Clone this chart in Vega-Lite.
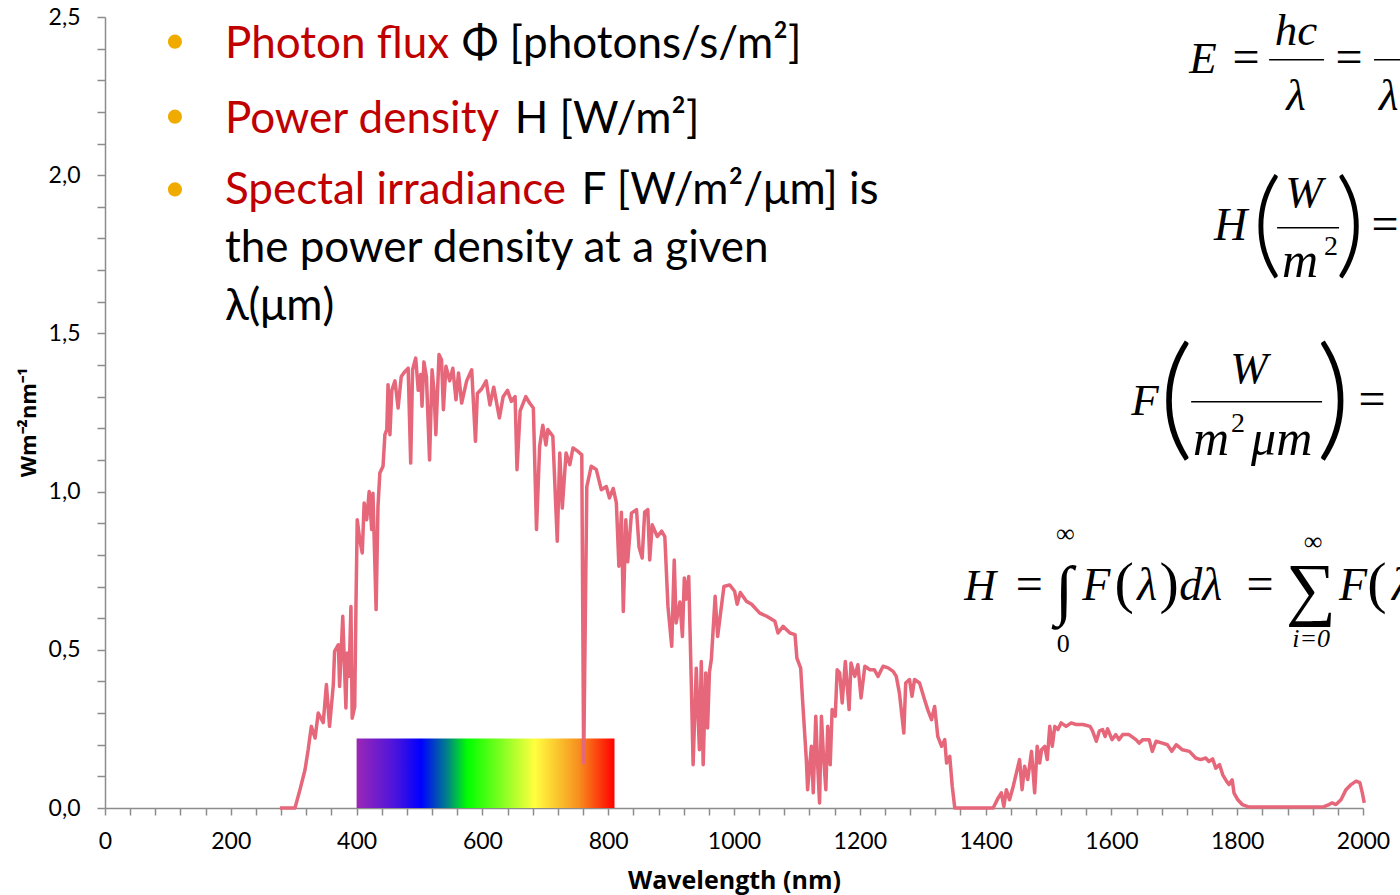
{
  "$schema": "https://vega.github.io/schema/vega-lite/v6.json",
  "width": 1258,
  "height": 791,
  "autosize": {"type": "none"},
  "padding": {"left": 105, "top": 17, "right": 37, "bottom": 87},
  "background": "white",
  "config": {"view": {"stroke": null}},
  "layer": [
    {
      "data": {"values": [{}]},
      "mark": {"type": "rect", "color": {"gradient": "linear", "x1": 0, "x2": 1, "y1": 0, "y2": 0, "stops": [
        {"offset": 0, "color": "#9B27B5"},
        {"offset": 0.15, "color": "#4A14DC"},
        {"offset": 0.25, "color": "#0000FF"},
        {"offset": 0.35, "color": "#00808A"},
        {"offset": 0.43, "color": "#00FF00"},
        {"offset": 0.56, "color": "#7FFF20"},
        {"offset": 0.69, "color": "#FFFF40"},
        {"offset": 0.86, "color": "#F7901E"},
        {"offset": 1, "color": "#FF0000"}]}},
      "encoding": {"x": {"datum": 400}, "x2": {"datum": 810}, "y": {"datum": 0}, "y2": {"datum": 0.22}}
    },
    {
      "data": {"values": [
        {"wavelength": 278, "irradiance": 0},{"wavelength": 302, "irradiance": 0},{"wavelength": 310, "irradiance": 0.058},{"wavelength": 318, "irradiance": 0.121},{"wavelength": 323, "irradiance": 0.184},{"wavelength": 328, "irradiance": 0.258},{"wavelength": 334, "irradiance": 0.221},{"wavelength": 339, "irradiance": 0.30},{"wavelength": 347, "irradiance": 0.27},{"wavelength": 352, "irradiance": 0.39},{"wavelength": 357, "irradiance": 0.258},{"wavelength": 363, "irradiance": 0.39},{"wavelength": 365, "irradiance": 0.495},{"wavelength": 371, "irradiance": 0.516},{"wavelength": 373, "irradiance": 0.384},{"wavelength": 378, "irradiance": 0.606},{"wavelength": 383, "irradiance": 0.316},{"wavelength": 385, "irradiance": 0.49},{"wavelength": 388, "irradiance": 0.416},{"wavelength": 391, "irradiance": 0.637},{"wavelength": 393, "irradiance": 0.284},{"wavelength": 397, "irradiance": 0.32},{"wavelength": 399, "irradiance": 0.64},{"wavelength": 401, "irradiance": 0.911},{"wavelength": 405, "irradiance": 0.848},{"wavelength": 409, "irradiance": 0.806},{"wavelength": 412, "irradiance": 0.964},{"wavelength": 416, "irradiance": 0.911},{"wavelength": 420, "irradiance": 1.0},{"wavelength": 424, "irradiance": 0.88},{"wavelength": 426, "irradiance": 0.995},{"wavelength": 431, "irradiance": 0.627},{"wavelength": 434, "irradiance": 0.953},{"wavelength": 437, "irradiance": 1.059},{"wavelength": 442, "irradiance": 1.08},{"wavelength": 445, "irradiance": 1.18},{"wavelength": 448, "irradiance": 1.196},{"wavelength": 450, "irradiance": 1.338},{"wavelength": 453, "irradiance": 1.18},{"wavelength": 456, "irradiance": 1.32},{"wavelength": 461, "irradiance": 1.35},{"wavelength": 466, "irradiance": 1.264},{"wavelength": 471, "irradiance": 1.364},{"wavelength": 477, "irradiance": 1.38},{"wavelength": 482, "irradiance": 1.39},{"wavelength": 486, "irradiance": 1.09},{"wavelength": 489, "irradiance": 1.385},{"wavelength": 494, "irradiance": 1.422},{"wavelength": 498, "irradiance": 1.32},{"wavelength": 502, "irradiance": 1.37},{"wavelength": 504, "irradiance": 1.27},{"wavelength": 507, "irradiance": 1.41},{"wavelength": 511, "irradiance": 1.364},{"wavelength": 516, "irradiance": 1.10},{"wavelength": 520, "irradiance": 1.385},{"wavelength": 523, "irradiance": 1.32},{"wavelength": 526, "irradiance": 1.18},{"wavelength": 531, "irradiance": 1.433},{"wavelength": 535, "irradiance": 1.417},{"wavelength": 538, "irradiance": 1.259},{"wavelength": 542, "irradiance": 1.396},{"wavelength": 548, "irradiance": 1.35},{"wavelength": 553, "irradiance": 1.39},{"wavelength": 558, "irradiance": 1.29},{"wavelength": 562, "irradiance": 1.375},{"wavelength": 567, "irradiance": 1.28},{"wavelength": 575, "irradiance": 1.35},{"wavelength": 583, "irradiance": 1.385},{"wavelength": 589, "irradiance": 1.159},{"wavelength": 592, "irradiance": 1.31},{"wavelength": 599, "irradiance": 1.325},{"wavelength": 606, "irradiance": 1.35},{"wavelength": 612, "irradiance": 1.274},{"wavelength": 618, "irradiance": 1.33},{"wavelength": 627, "irradiance": 1.233},{"wavelength": 633, "irradiance": 1.30},{"wavelength": 640, "irradiance": 1.32},{"wavelength": 646, "irradiance": 1.285},{"wavelength": 652, "irradiance": 1.30},{"wavelength": 655, "irradiance": 1.069},{"wavelength": 660, "irradiance": 1.255},{"wavelength": 669, "irradiance": 1.30},{"wavelength": 675, "irradiance": 1.28},{"wavelength": 681, "irradiance": 1.264},{"wavelength": 686, "irradiance": 0.88},{"wavelength": 691, "irradiance": 1.143},{"wavelength": 696, "irradiance": 1.21},{"wavelength": 701, "irradiance": 1.147},{"wavelength": 704, "irradiance": 1.196},{"wavelength": 712, "irradiance": 1.175},{"wavelength": 719, "irradiance": 0.843},{"wavelength": 723, "irradiance": 1.122},{"wavelength": 727, "irradiance": 0.948},{"wavelength": 733, "irradiance": 1.122},{"wavelength": 739, "irradiance": 1.085},{"wavelength": 744, "irradiance": 1.138},{"wavelength": 752, "irradiance": 1.127},{"wavelength": 758, "irradiance": 1.116},{"wavelength": 761, "irradiance": 0.142},{"wavelength": 766, "irradiance": 1.016},{"wavelength": 773, "irradiance": 1.08},{"wavelength": 781, "irradiance": 1.07},{"wavelength": 789, "irradiance": 1.006},{"wavelength": 797, "irradiance": 1.016},{"wavelength": 802, "irradiance": 0.98},{"wavelength": 808, "irradiance": 1.01},{"wavelength": 813, "irradiance": 0.964},{"wavelength": 817, "irradiance": 0.764},{"wavelength": 821, "irradiance": 0.935},{"wavelength": 824, "irradiance": 0.621},{"wavelength": 828, "irradiance": 0.911},{"wavelength": 831, "irradiance": 0.778},{"wavelength": 837, "irradiance": 0.932},{"wavelength": 845, "irradiance": 0.943},{"wavelength": 849, "irradiance": 0.825},{"wavelength": 854, "irradiance": 0.79},{"wavelength": 858, "irradiance": 0.935},{"wavelength": 863, "irradiance": 0.943},{"wavelength": 866, "irradiance": 0.784},{"wavelength": 870, "irradiance": 0.895},{"wavelength": 878, "irradiance": 0.858},{"wavelength": 885, "irradiance": 0.875},{"wavelength": 890, "irradiance": 0.858},{"wavelength": 895, "irradiance": 0.637},{"wavelength": 901, "irradiance": 0.511},{"wavelength": 905, "irradiance": 0.784},{"wavelength": 908, "irradiance": 0.585},{"wavelength": 914, "irradiance": 0.651},{"wavelength": 918, "irradiance": 0.542},{"wavelength": 921, "irradiance": 0.727},{"wavelength": 924, "irradiance": 0.66},{"wavelength": 928, "irradiance": 0.732},{"wavelength": 932, "irradiance": 0.405},{"wavelength": 935, "irradiance": 0.137},{"wavelength": 940, "irradiance": 0.442},{"wavelength": 945, "irradiance": 0.184},{"wavelength": 948, "irradiance": 0.463},{"wavelength": 951, "irradiance": 0.137},{"wavelength": 955, "irradiance": 0.427},{"wavelength": 958, "irradiance": 0.253},{"wavelength": 961, "irradiance": 0.43},{"wavelength": 964, "irradiance": 0.47},{"wavelength": 970, "irradiance": 0.669},{"wavelength": 974, "irradiance": 0.542},{"wavelength": 978, "irradiance": 0.606},{"wavelength": 984, "irradiance": 0.70},{"wavelength": 993, "irradiance": 0.705},{"wavelength": 1001, "irradiance": 0.685},{"wavelength": 1005, "irradiance": 0.644},{"wavelength": 1010, "irradiance": 0.681},{"wavelength": 1020, "irradiance": 0.653},{"wavelength": 1028, "irradiance": 0.644},{"wavelength": 1041, "irradiance": 0.616},{"wavelength": 1052, "irradiance": 0.606},{"wavelength": 1065, "irradiance": 0.59},{"wavelength": 1070, "irradiance": 0.553},{"wavelength": 1078, "irradiance": 0.574},{"wavelength": 1089, "irradiance": 0.553},{"wavelength": 1097, "irradiance": 0.548},{"wavelength": 1100, "irradiance": 0.474},{"wavelength": 1106, "irradiance": 0.442},{"wavelength": 1109, "irradiance": 0.342},{"wavelength": 1115, "irradiance": 0.153},{"wavelength": 1117, "irradiance": 0.058},{"wavelength": 1123, "irradiance": 0.195},{"wavelength": 1126, "irradiance": 0.048},{"wavelength": 1130, "irradiance": 0.29},{"wavelength": 1133, "irradiance": 0.137},{"wavelength": 1136, "irradiance": 0.016},{"wavelength": 1139, "irradiance": 0.29},{"wavelength": 1142, "irradiance": 0.174},{"wavelength": 1146, "irradiance": 0.058},{"wavelength": 1149, "irradiance": 0.258},{"wavelength": 1153, "irradiance": 0.137},{"wavelength": 1156, "irradiance": 0.311},{"wavelength": 1161, "irradiance": 0.29},{"wavelength": 1164, "irradiance": 0.437},{"wavelength": 1168, "irradiance": 0.427},{"wavelength": 1172, "irradiance": 0.332},{"wavelength": 1177, "irradiance": 0.463},{"wavelength": 1183, "irradiance": 0.311},{"wavelength": 1186, "irradiance": 0.458},{"wavelength": 1192, "irradiance": 0.416},{"wavelength": 1197, "irradiance": 0.453},{"wavelength": 1202, "irradiance": 0.348},{"wavelength": 1208, "irradiance": 0.448},{"wavelength": 1216, "irradiance": 0.437},{"wavelength": 1223, "irradiance": 0.437},{"wavelength": 1229, "irradiance": 0.416},{"wavelength": 1237, "irradiance": 0.448},{"wavelength": 1245, "irradiance": 0.443},{"wavelength": 1253, "irradiance": 0.432},{"wavelength": 1258, "irradiance": 0.416},{"wavelength": 1263, "irradiance": 0.363},{"wavelength": 1270, "irradiance": 0.237},{"wavelength": 1273, "irradiance": 0.395},{"wavelength": 1279, "irradiance": 0.406},{"wavelength": 1283, "irradiance": 0.353},{"wavelength": 1287, "irradiance": 0.406},{"wavelength": 1295, "irradiance": 0.395},{"wavelength": 1303, "irradiance": 0.342},{"wavelength": 1308, "irradiance": 0.311},{"wavelength": 1314, "irradiance": 0.279},{"wavelength": 1319, "irradiance": 0.321},{"wavelength": 1324, "irradiance": 0.226},{"wavelength": 1330, "irradiance": 0.195},{"wavelength": 1335, "irradiance": 0.216},{"wavelength": 1338, "irradiance": 0.142},{"wavelength": 1343, "irradiance": 0.163},{"wavelength": 1347, "irradiance": 0.068},{"wavelength": 1351, "irradiance": 0},{"wavelength": 1412, "irradiance": 0},{"wavelength": 1420, "irradiance": 0.032},{"wavelength": 1425, "irradiance": 0.048},{"wavelength": 1429, "irradiance": 0.005},{"wavelength": 1433, "irradiance": 0.058},{"wavelength": 1438, "irradiance": 0.026},{"wavelength": 1444, "irradiance": 0.069},{"wavelength": 1449, "irradiance": 0.111},{"wavelength": 1454, "irradiance": 0.153},{"wavelength": 1458, "irradiance": 0.058},{"wavelength": 1462, "irradiance": 0.132},{"wavelength": 1467, "irradiance": 0.09},{"wavelength": 1473, "irradiance": 0.179},{"wavelength": 1478, "irradiance": 0.048},{"wavelength": 1482, "irradiance": 0.195},{"wavelength": 1486, "irradiance": 0.142},{"wavelength": 1489, "irradiance": 0.184},{"wavelength": 1494, "irradiance": 0.195},{"wavelength": 1498, "irradiance": 0.153},{"wavelength": 1502, "irradiance": 0.258},{"wavelength": 1506, "irradiance": 0.195},{"wavelength": 1510, "irradiance": 0.258},{"wavelength": 1515, "irradiance": 0.248},{"wavelength": 1520, "irradiance": 0.269},{"wavelength": 1528, "irradiance": 0.258},{"wavelength": 1536, "irradiance": 0.269},{"wavelength": 1544, "irradiance": 0.264},{"wavelength": 1555, "irradiance": 0.264},{"wavelength": 1566, "irradiance": 0.258},{"wavelength": 1570, "irradiance": 0.244},{"wavelength": 1576, "irradiance": 0.211},{"wavelength": 1581, "irradiance": 0.244},{"wavelength": 1586, "irradiance": 0.248},{"wavelength": 1590, "irradiance": 0.226},{"wavelength": 1594, "irradiance": 0.25},{"wavelength": 1601, "irradiance": 0.216},{"wavelength": 1607, "irradiance": 0.232},{"wavelength": 1612, "irradiance": 0.216},{"wavelength": 1618, "irradiance": 0.232},{"wavelength": 1628, "irradiance": 0.232},{"wavelength": 1639, "irradiance": 0.216},{"wavelength": 1644, "irradiance": 0.205},{"wavelength": 1650, "irradiance": 0.216},{"wavelength": 1660, "irradiance": 0.216},{"wavelength": 1665, "irradiance": 0.179},{"wavelength": 1671, "irradiance": 0.211},{"wavelength": 1681, "irradiance": 0.205},{"wavelength": 1689, "irradiance": 0.2},{"wavelength": 1696, "irradiance": 0.179},{"wavelength": 1703, "irradiance": 0.2},{"wavelength": 1713, "irradiance": 0.184},{"wavelength": 1724, "irradiance": 0.179},{"wavelength": 1734, "irradiance": 0.158},{"wavelength": 1742, "irradiance": 0.153},{"wavelength": 1750, "irradiance": 0.158},{"wavelength": 1755, "irradiance": 0.147},{"wavelength": 1761, "irradiance": 0.155},{"wavelength": 1766, "irradiance": 0.126},{"wavelength": 1772, "irradiance": 0.137},{"wavelength": 1777, "irradiance": 0.105},{"wavelength": 1783, "irradiance": 0.085},{"wavelength": 1787, "irradiance": 0.074},{"wavelength": 1792, "irradiance": 0.089},{"wavelength": 1795, "irradiance": 0.047},{"wavelength": 1801, "irradiance": 0.026},{"wavelength": 1808, "irradiance": 0.011},{"wavelength": 1819, "irradiance": 0.003},{"wavelength": 1936, "irradiance": 0.003},{"wavelength": 1946, "irradiance": 0.011},{"wavelength": 1951, "irradiance": 0.016},{"wavelength": 1957, "irradiance": 0.011},{"wavelength": 1965, "irradiance": 0.026},{"wavelength": 1973, "irradiance": 0.058},{"wavelength": 1981, "irradiance": 0.074},{"wavelength": 1989, "irradiance": 0.085},{"wavelength": 1995, "irradiance": 0.08},{"wavelength": 1999, "irradiance": 0.047},{"wavelength": 2002, "irradiance": 0.016}
      ]},
      "mark": {"type": "line", "color": "#E6667A", "strokeWidth": 3.5, "strokeJoin": "round", "clip": false},
      "encoding": {
        "x": {"field": "wavelength", "type": "quantitative",
          "scale": {"domain": [0, 2000], "nice": false, "zero": false},
          "axis": {
            "values": [0,40,80,120,160,200,240,280,320,360,400,440,480,520,560,600,640,680,720,760,800,840,880,920,960,1000,1040,1080,1120,1160,1200,1240,1280,1320,1360,1400,1440,1480,1520,1560,1600,1640,1680,1720,1760,1800,1840,1880,1920,1960,2000],
            "tickCount": 200,
            "labelExpr": "datum.value % 200 === 0 ? format(datum.value, 'd') : ''",
            "labelOverlap": false, "labelFlush": false,
            "grid": false, "tickSize": 7, "tickWidth": 1.5, "tickColor": "#8C8C8C",
            "domainColor": "#8C8C8C", "domainWidth": 1.5,
            "labelFont": "Lato", "labelFontSize": 23, "labelColor": "#000000", "labelPadding": 15,
            "title": "Wavelength (nm)", "titleFont": "Open Sans", "titleFontWeight": "bold", "titleFontSize": 25,
            "titleColor": "#000000", "titleBaseline": "alphabetic", "titleY": 80, "titleAlign": "center"
          }},
        "y": {"field": "irradiance", "type": "quantitative",
          "scale": {"domain": [0, 2.5], "nice": false},
          "axis": {
            "values": [0,0.1,0.2,0.3,0.4,0.5,0.6,0.7,0.8,0.9,1.0,1.1,1.2,1.3,1.4,1.5,1.6,1.7,1.8,1.9,2.0,2.1,2.2,2.3,2.4,2.5],
            "tickCount": 200,
            "labelExpr": "round(datum.value * 10) % 5 === 0 ? replace(format(datum.value, '.1f'), '.', ',') : ''",
            "labelOverlap": false, "labelFlush": false,
            "grid": false, "tickSize": 8, "tickWidth": 1.5, "tickColor": "#8C8C8C",
            "domainColor": "#8C8C8C", "domainWidth": 1.5,
            "labelFont": "Lato", "labelFontSize": 23, "labelColor": "#000000", "labelPadding": 17,
            "title": "Wm⁻²nm⁻¹", "titleFont": "Open Sans", "titleFontWeight": "bold", "titleFontSize": 22,
            "titleColor": "#000000", "titleAngle": -90, "titleBaseline": "alphabetic", "titleAlign": "center",
            "titleX": -70, "titleY": 405
          }}
      }
    },
    {"data": {"values": [{}]}, "mark": {"type": "circle", "color": "#F0AB00", "size": 200, "opacity": 1}, "encoding": {"x": {"datum": 111.2}, "y": {"datum": 2.422}}},
    {"data": {"values": [{}]}, "mark": {"type": "circle", "color": "#F0AB00", "size": 200, "opacity": 1}, "encoding": {"x": {"datum": 111.2}, "y": {"datum": 2.185}}},
    {"data": {"values": [{}]}, "mark": {"type": "circle", "color": "#F0AB00", "size": 200, "opacity": 1}, "encoding": {"x": {"datum": 111.2}, "y": {"datum": 1.955}}},
    {"data": {"values": [{}]}, "mark": {"type": "text", "text": "Photon flux", "font": "Lato", "fontSize": 44, "color": "#C00000", "align": "left", "baseline": "alphabetic"}, "encoding": {"x": {"datum": 190.6}, "y": {"datum": 2.371}}},
    {"data": {"values": [{}]}, "mark": {"type": "text", "text": "Φ [photons/s/m²]", "font": "Lato", "fontSize": 44, "color": "#000000", "align": "left", "baseline": "alphabetic"}, "encoding": {"x": {"datum": 567.1}, "y": {"datum": 2.371}}},
    {"data": {"values": [{}]}, "mark": {"type": "text", "text": "Power density", "font": "Lato", "fontSize": 44, "color": "#C00000", "align": "left", "baseline": "alphabetic"}, "encoding": {"x": {"datum": 190.6}, "y": {"datum": 2.134}}},
    {"data": {"values": [{}]}, "mark": {"type": "text", "text": "H [W/m²]", "font": "Lato", "fontSize": 44, "color": "#000000", "align": "left", "baseline": "alphabetic"}, "encoding": {"x": {"datum": 651.3}, "y": {"datum": 2.134}}},
    {"data": {"values": [{}]}, "mark": {"type": "text", "text": "Spectal irradiance", "font": "Lato", "fontSize": 44, "color": "#C00000", "align": "left", "baseline": "alphabetic"}, "encoding": {"x": {"datum": 190.6}, "y": {"datum": 1.908}}},
    {"data": {"values": [{}]}, "mark": {"type": "text", "text": "F [W/m²/μm] is", "font": "Lato", "fontSize": 44, "color": "#000000", "align": "left", "baseline": "alphabetic"}, "encoding": {"x": {"datum": 757.7}, "y": {"datum": 1.908}}},
    {"data": {"values": [{}]}, "mark": {"type": "text", "text": "the power density at a given", "font": "Lato", "fontSize": 44, "color": "#000000", "align": "left", "baseline": "alphabetic"}, "encoding": {"x": {"datum": 190.6}, "y": {"datum": 1.727}}},
    {"data": {"values": [{}]}, "mark": {"type": "text", "text": "λ(μm)", "font": "Lato", "fontSize": 44, "color": "#000000", "align": "left", "baseline": "alphabetic"}, "encoding": {"x": {"datum": 190.6}, "y": {"datum": 1.543}}},

    {"data": {"values": [{}]}, "mark": {"type": "text", "text": "E", "font": "Liberation Serif", "fontStyle": "italic", "fontSize": 45, "color": "#000000", "align": "left", "baseline": "alphabetic"}, "encoding": {"x": {"datum": 1723.6}, "y": {"datum": 2.324}}},
    {"data": {"values": [{}]}, "mark": {"type": "text", "text": "=", "font": "Liberation Serif", "fontSize": 48, "color": "#000000", "align": "center", "baseline": "alphabetic"}, "encoding": {"x": {"datum": 1814.1}, "y": {"datum": 2.324}}},
    {"data": {"values": [{}]}, "mark": {"type": "text", "text": "hc", "font": "Liberation Serif", "fontStyle": "italic", "fontSize": 45, "color": "#000000", "align": "center", "baseline": "alphabetic"}, "encoding": {"x": {"datum": 1893.6}, "y": {"datum": 2.412}}},
    {"data": {"values": [{}]}, "mark": {"type": "rule", "color": "#000000", "strokeWidth": 1.5}, "encoding": {"x": {"datum": 1850.7}, "x2": {"datum": 1938.1}, "y": {"datum": 2.365}}},
    {"data": {"values": [{}]}, "mark": {"type": "text", "text": "λ", "font": "Liberation Serif", "fontStyle": "italic", "fontSize": 45, "color": "#000000", "align": "center", "baseline": "alphabetic"}, "encoding": {"x": {"datum": 1893.6}, "y": {"datum": 2.207}}},
    {"data": {"values": [{}]}, "mark": {"type": "text", "text": "=", "font": "Liberation Serif", "fontSize": 48, "color": "#000000", "align": "center", "baseline": "alphabetic"}, "encoding": {"x": {"datum": 1977.8}, "y": {"datum": 2.324}}},
    {"data": {"values": [{}]}, "mark": {"type": "rule", "color": "#000000", "strokeWidth": 1.5}, "encoding": {"x": {"datum": 2017.5}, "x2": {"datum": 2100}, "y": {"datum": 2.365}}},
    {"data": {"values": [{}]}, "mark": {"type": "text", "text": "λ", "font": "Liberation Serif", "fontStyle": "italic", "fontSize": 45, "color": "#000000", "align": "left", "baseline": "alphabetic"}, "encoding": {"x": {"datum": 2025.4}, "y": {"datum": 2.207}}},

    {"data": {"values": [{}]}, "mark": {"type": "text", "text": "H", "font": "Liberation Serif", "fontStyle": "italic", "fontSize": 46, "color": "#000000", "align": "left", "baseline": "alphabetic"}, "encoding": {"x": {"datum": 1763.3}, "y": {"datum": 1.796}}},
    {"data": {"values": [{}]}, "mark": {"type": "text", "text": "(", "font": "Lato", "fontWeight": 300, "fontSize": 117, "color": "#000000", "align": "center", "baseline": "alphabetic"}, "encoding": {"x": {"datum": 1847.5}, "y": {"datum": 1.721}}},
    {"data": {"values": [{}]}, "mark": {"type": "text", "text": "W", "font": "Liberation Serif", "fontStyle": "italic", "fontSize": 45, "color": "#000000", "align": "center", "baseline": "alphabetic"}, "encoding": {"x": {"datum": 1906.3}, "y": {"datum": 1.901}}},
    {"data": {"values": [{}]}, "mark": {"type": "rule", "color": "#000000", "strokeWidth": 1.5}, "encoding": {"x": {"datum": 1863.4}, "x2": {"datum": 1961.9}, "y": {"datum": 1.834}}},
    {"data": {"values": [{}]}, "mark": {"type": "text", "text": "m", "font": "Liberation Serif", "fontStyle": "italic", "fontSize": 50, "color": "#000000", "align": "center", "baseline": "alphabetic"}, "encoding": {"x": {"datum": 1900}, "y": {"datum": 1.679}}},
    {"data": {"values": [{}]}, "mark": {"type": "text", "text": "2", "font": "Liberation Serif", "fontSize": 28, "color": "#000000", "align": "left", "baseline": "alphabetic"}, "encoding": {"x": {"datum": 1938}, "y": {"datum": 1.749}}},
    {"data": {"values": [{}]}, "mark": {"type": "text", "text": ")", "font": "Lato", "fontWeight": 300, "fontSize": 117, "color": "#000000", "align": "center", "baseline": "alphabetic"}, "encoding": {"x": {"datum": 1979.4}, "y": {"datum": 1.721}}},
    {"data": {"values": [{}]}, "mark": {"type": "text", "text": "=", "font": "Liberation Serif", "fontSize": 48, "color": "#000000", "align": "center", "baseline": "alphabetic"}, "encoding": {"x": {"datum": 2034.9}, "y": {"datum": 1.796}}},

    {"data": {"values": [{}]}, "mark": {"type": "text", "text": "F", "font": "Liberation Serif", "fontStyle": "italic", "fontSize": 45, "color": "#000000", "align": "left", "baseline": "alphabetic"}, "encoding": {"x": {"datum": 1631.5}, "y": {"datum": 1.243}}},
    {"data": {"values": [{}]}, "mark": {"type": "text", "text": "(", "font": "Lato", "fontWeight": 300, "fontSize": 135, "color": "#000000", "align": "center", "baseline": "alphabetic"}, "encoding": {"x": {"datum": 1703}, "y": {"datum": 1.155}}},
    {"data": {"values": [{}]}, "mark": {"type": "text", "text": "W", "font": "Liberation Serif", "fontStyle": "italic", "fontSize": 45, "color": "#000000", "align": "center", "baseline": "alphabetic"}, "encoding": {"x": {"datum": 1818.9}, "y": {"datum": 1.344}}},
    {"data": {"values": [{}]}, "mark": {"type": "rule", "color": "#000000", "strokeWidth": 1.5}, "encoding": {"x": {"datum": 1726.8}, "x2": {"datum": 1934.9}, "y": {"datum": 1.284}}},
    {"data": {"values": [{}]}, "mark": {"type": "text", "text": "m", "font": "Liberation Serif", "fontStyle": "italic", "fontSize": 50, "color": "#000000", "align": "center", "baseline": "alphabetic"}, "encoding": {"x": {"datum": 1758.5}, "y": {"datum": 1.117}}},
    {"data": {"values": [{}]}, "mark": {"type": "text", "text": "2", "font": "Liberation Serif", "fontSize": 28, "color": "#000000", "align": "left", "baseline": "alphabetic"}, "encoding": {"x": {"datum": 1790.3}, "y": {"datum": 1.189}}},
    {"data": {"values": [{}]}, "mark": {"type": "text", "text": "μm", "font": "Liberation Serif", "fontStyle": "italic", "fontSize": 50, "color": "#000000", "align": "left", "baseline": "alphabetic"}, "encoding": {"x": {"datum": 1822.1}, "y": {"datum": 1.117}}},
    {"data": {"values": [{}]}, "mark": {"type": "text", "text": ")", "font": "Lato", "fontWeight": 300, "fontSize": 135, "color": "#000000", "align": "center", "baseline": "alphabetic"}, "encoding": {"x": {"datum": 1953.1}, "y": {"datum": 1.155}}},
    {"data": {"values": [{}]}, "mark": {"type": "text", "text": "=", "font": "Liberation Serif", "fontSize": 48, "color": "#000000", "align": "center", "baseline": "alphabetic"}, "encoding": {"x": {"datum": 2014.3}, "y": {"datum": 1.243}}},

    {"data": {"values": [{}]}, "mark": {"type": "text", "text": "H", "font": "Liberation Serif", "fontStyle": "italic", "fontSize": 44, "color": "#000000", "align": "left", "baseline": "alphabetic"}, "encoding": {"x": {"datum": 1366.2}, "y": {"datum": 0.658}}},
    {"data": {"values": [{}]}, "mark": {"type": "text", "text": "=", "font": "Liberation Serif", "fontSize": 48, "color": "#000000", "align": "center", "baseline": "alphabetic"}, "encoding": {"x": {"datum": 1469.4}, "y": {"datum": 0.658}}},
    {"data": {"values": [{}]}, "mark": {"type": "text", "text": "∫", "font": "Liberation Serif", "fontSize": 66, "color": "#000000", "align": "center", "baseline": "alphabetic"}, "encoding": {"x": {"datum": 1525}, "y": {"datum": 0.62}}},
    {"data": {"values": [{}]}, "mark": {"type": "text", "text": "∞", "font": "Liberation Serif", "fontSize": 26, "color": "#000000", "align": "center", "baseline": "alphabetic"}, "encoding": {"x": {"datum": 1526.6}, "y": {"datum": 0.842}}},
    {"data": {"values": [{}]}, "mark": {"type": "text", "text": "0", "font": "Liberation Serif", "fontSize": 26, "color": "#000000", "align": "center", "baseline": "alphabetic"}, "encoding": {"x": {"datum": 1523.4}, "y": {"datum": 0.494}}},
    {"data": {"values": [{}]}, "mark": {"type": "text", "text": "F", "font": "Liberation Serif", "fontStyle": "italic", "fontSize": 46, "color": "#000000", "align": "left", "baseline": "alphabetic"}, "encoding": {"x": {"datum": 1553.6}, "y": {"datum": 0.658}}},
    {"data": {"values": [{}]}, "mark": {"type": "text", "text": "(", "font": "Liberation Serif", "fontSize": 58, "color": "#000000", "align": "center", "baseline": "alphabetic"}, "encoding": {"x": {"datum": 1620.3}, "y": {"datum": 0.652}}},
    {"data": {"values": [{}]}, "mark": {"type": "text", "text": "λ", "font": "Liberation Serif", "fontStyle": "italic", "fontSize": 46, "color": "#000000", "align": "center", "baseline": "alphabetic"}, "encoding": {"x": {"datum": 1656.9}, "y": {"datum": 0.658}}},
    {"data": {"values": [{}]}, "mark": {"type": "text", "text": ")", "font": "Liberation Serif", "fontSize": 58, "color": "#000000", "align": "center", "baseline": "alphabetic"}, "encoding": {"x": {"datum": 1691.8}, "y": {"datum": 0.652}}},
    {"data": {"values": [{}]}, "mark": {"type": "text", "text": "dλ", "font": "Liberation Serif", "fontStyle": "italic", "fontSize": 46, "color": "#000000", "align": "left", "baseline": "alphabetic"}, "encoding": {"x": {"datum": 1707.7}, "y": {"datum": 0.658}}},
    {"data": {"values": [{}]}, "mark": {"type": "text", "text": "=", "font": "Liberation Serif", "fontSize": 48, "color": "#000000", "align": "center", "baseline": "alphabetic"}, "encoding": {"x": {"datum": 1836.4}, "y": {"datum": 0.658}}},
    {"data": {"values": [{}]}, "mark": {"type": "text", "text": "∑", "font": "Liberation Serif", "fontSize": 70, "color": "#000000", "align": "center", "baseline": "alphabetic"}, "encoding": {"x": {"datum": 1917.4}, "y": {"datum": 0.62}}},
    {"data": {"values": [{}]}, "mark": {"type": "text", "text": "∞", "font": "Liberation Serif", "fontSize": 26, "color": "#000000", "align": "center", "baseline": "alphabetic"}, "encoding": {"x": {"datum": 1920.6}, "y": {"datum": 0.817}}},
    {"data": {"values": [{}]}, "mark": {"type": "text", "text": "i=0", "font": "Liberation Serif", "fontStyle": "italic", "fontSize": 26, "color": "#000000", "align": "center", "baseline": "alphabetic"}, "encoding": {"x": {"datum": 1917.4}, "y": {"datum": 0.51}}},
    {"data": {"values": [{}]}, "mark": {"type": "text", "text": "F", "font": "Liberation Serif", "fontStyle": "italic", "fontSize": 46, "color": "#000000", "align": "left", "baseline": "alphabetic"}, "encoding": {"x": {"datum": 1961.9}, "y": {"datum": 0.658}}},
    {"data": {"values": [{}]}, "mark": {"type": "text", "text": "(", "font": "Liberation Serif", "fontSize": 58, "color": "#000000", "align": "center", "baseline": "alphabetic"}, "encoding": {"x": {"datum": 2022.2}, "y": {"datum": 0.652}}},
    {"data": {"values": [{}]}, "mark": {"type": "text", "text": "λ", "font": "Liberation Serif", "fontStyle": "italic", "fontSize": 46, "color": "#000000", "align": "left", "baseline": "alphabetic"}, "encoding": {"x": {"datum": 2046}, "y": {"datum": 0.658}}}
  ]
}
